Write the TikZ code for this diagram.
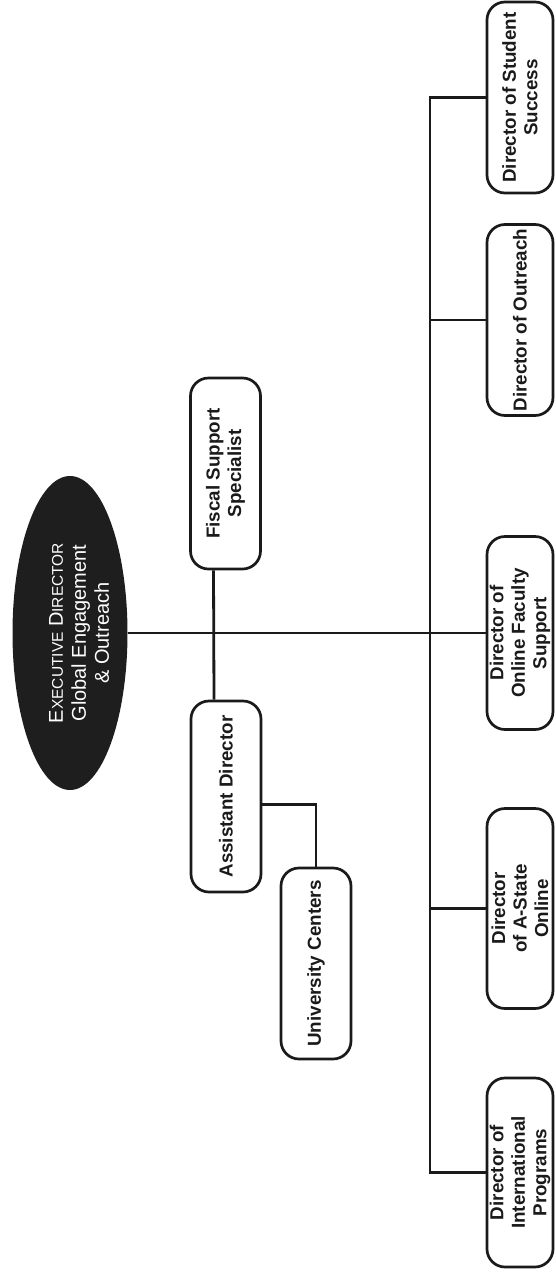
\documentclass[tikz,border=0pt]{standalone}
\usepackage{fontspec}
\setmainfont{Liberation Sans}
\usetikzlibrary{shapes.geometric}
\definecolor{linec}{HTML}{1A1A1A}
\definecolor{ellc}{HTML}{1E1E1E}
\begin{document}
\begin{tikzpicture}[x=1pt,y=-1pt,
  box/.style={draw=linec, line width=2.7pt, rounded corners=18pt, rotate=90,
    minimum width=191pt, minimum height=70pt, inner sep=0pt, align=center,
    text=linec, font=\fontsize{18.8}{21.5}\selectfont\bfseries},
  rbox/.style={box, minimum height=66pt},
  execell/.style={ellipse, fill=ellc, draw=none, minimum width=115pt, minimum height=314pt, inner sep=0pt},
  exectxt/.style={rotate=90, text=white, align=center, inner sep=0pt, font=\fontsize{20}{23}\selectfont},
  conn/.style={draw=linec, line width=2.8pt}]
\useasboundingbox (0,0) rectangle (555,1272);

% executive ellipse
\node[execell] (exec) at (70,633) {};
\node[exectxt] (exectext) at (79,633) {E{\fontsize{15.5}{23}\selectfont XECUTIVE} D{\fontsize{15.5}{23}\selectfont IRECTOR}\\Global Engagement\\\& Outreach};

% staff boxes
\node[box] (fiscal) at (225.5,473.5) {Fiscal Support\\Specialist};
\node[box] (assist) at (226,796.5) {Assistant Director};
\node[box] (univ) at (316,963.5) {University Centers};

% directors
\node[rbox] (ss) at (520,97.5) {Director of Student\\Success};
\node[rbox] (outr) at (520,320) {Director of Outreach};
\node[rbox, minimum width=193pt] (onl) at (520,633) {Director of\\Online Faculty\\Support};
\node[rbox, minimum width=200pt] (ast) at (520,908.5) {Director\\of A-State\\Online};
\node[rbox, minimum width=189pt] (intl) at (520,1172.5) {Director of\\International\\Programs};

\coordinate (spine) at (430,633);

% connectors
\draw[conn] (exec.east) -- (onl.north);
\draw[conn] (ss.north) -- (ss.north -| spine) -- (intl.north -| spine) -- (intl.north);
\draw[conn] (outr.north) -- (outr.north -| spine);
\draw[conn] (ast.north) -- (ast.north -| spine);
\draw[conn] ([xshift=-12pt]fiscal.west) -- ([xshift=-12pt]assist.east);
\draw[conn] ([yshift=-8pt]assist.south) -| (univ.east);
\end{tikzpicture}
\end{document}
